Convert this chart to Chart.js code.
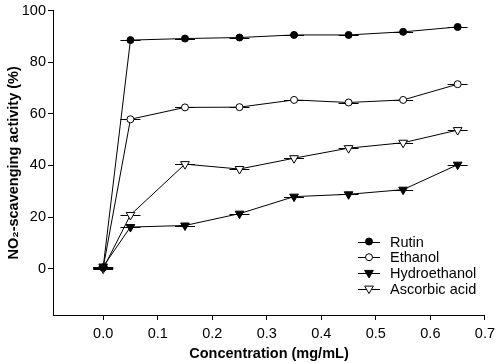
<!DOCTYPE html>
<html>
<head>
<meta charset="utf-8">
<script src="https://cdn.jsdelivr.net/npm/chart.js@4/dist/chart.umd.min.js"></script>
<style>
  html, body { margin: 0; padding: 0; background: #fff; }
  #wrap { width: 500px; height: 363px; }
</style>
</head>
<body>
<div id="wrap"><canvas id="chart"></canvas></div>
<script>
// values
const concentrations = [0.0, 0.05, 0.15, 0.25, 0.35, 0.45, 0.55, 0.65]
const rutin = [0.5, 88.6, 89.2, 89.6, 90.6, 90.6, 91.8, 93.7]
const ethanol = [0.3, 57.9, 62.5, 62.6, 65.4, 64.4, 65.4, 71.5]
const hydroethanol = [0.8, 16.1, 16.7, 21.3, 27.9, 28.8, 30.6, 40.3]
const ascorbicAcid = [0.0, 20.8, 40.5, 38.6, 42.8, 46.7, 48.8, 53.7]
const xTicks = [0.0, 0.1, 0.2, 0.3, 0.4, 0.5, 0.6, 0.7]
const yTicks = [0, 20, 40, 60, 80, 100]

const font = "'Liberation Sans', Arial, Helvetica, sans-serif"

function points(values) {
  return concentrations.map((x, i) => ({x: x, y: values[i]}))
}

function series(label, values, style, fill) {
  return {
    label: label,
    data: points(values),
    borderColor: '#000',
    borderWidth: 1,
    pointStyle: style.shape,
    pointRotation: style.rotation,
    pointRadius: style.radius,
    pointBackgroundColor: fill,
    pointBorderColor: '#000',
    pointBorderWidth: 1,
    tension: 0
  }
}

const circle = {shape: 'circle', rotation: 0, radius: 3.5}
const downTriangle = {shape: 'triangle', rotation: 180, radius: 5}

// short horizontal bars at each point (the error bar caps)
const capsPlugin = {
  id: 'caps',
  beforeDatasetsDraw(chart) {
    const ctx = chart.ctx
    ctx.save()
    ctx.strokeStyle = '#000'
    ctx.lineWidth = 1
    chart.data.datasets.forEach((ds, i) => {
      chart.getDatasetMeta(i).data.forEach(pt => {
        ctx.beginPath()
        ctx.moveTo(pt.x - 10, Math.round(pt.y) + 0.5)
        ctx.lineTo(pt.x + 10, Math.round(pt.y) + 0.5)
        ctx.stroke()
      })
    })
    ctx.restore()
  }
}

// legend with a line through each marker, sitting inside the plot
const legendPlugin = {
  id: 'lineLegend',
  afterDraw(chart) {
    const ctx = chart.ctx
    ctx.save()
    ctx.font = '14.5px ' + font
    ctx.fillStyle = '#000'
    ctx.textBaseline = 'middle'
    chart.data.datasets.forEach((ds, i) => {
      const y = 241.5 + i * 15.7
      ctx.strokeStyle = '#000'
      ctx.lineWidth = 1
      ctx.beginPath()
      ctx.moveTo(358, Math.round(y) + 0.5)
      ctx.lineTo(380, Math.round(y) + 0.5)
      ctx.stroke()
      ctx.fillStyle = ds.pointBackgroundColor
      Chart.helpers.drawPoint(ctx, {
        pointStyle: ds.pointStyle,
        rotation: ds.pointRotation,
        radius: ds.pointRadius,
        borderWidth: 1
      }, 369, y)
      ctx.fillStyle = '#000'
      ctx.fillText(ds.label, 390, y + 1)
    })
    ctx.restore()
  }
}

new Chart(document.getElementById('chart'), {
  type: 'line',
  data: {
    datasets: [
      series('Rutin', rutin, circle, '#000'),
      series('Ethanol', ethanol, circle, '#fff'),
      series('Hydroethanol', hydroethanol, downTriangle, '#000'),
      series('Ascorbic acid', ascorbicAcid, downTriangle, '#fff')
    ]
  },
  options: {
    responsive: true,
    maintainAspectRatio: false,
    animation: false,
    layout: {padding: {left: 0, right: 10, top: 6, bottom: 0}},
    plugins: {legend: {display: false}, tooltip: {enabled: false}},
    scales: {
      x: {
        type: 'linear',
        min: -0.092,
        max: 0.7,
        afterBuildTicks: scale => { scale.ticks = xTicks.map(v => ({value: v})) },
        afterFit: scale => { scale.height = 48 },
        grid: {drawOnChartArea: false, drawTicks: true, tickLength: 5, color: '#000'},
        border: {display: true, color: '#000', width: 1},
        ticks: {
          color: '#000',
          padding: 5,
          maxRotation: 0,
          font: {family: font, size: 14.5},
          callback: v => v.toFixed(1)
        },
        title: {
          display: true,
          text: 'Concentration (mg/mL)',
          color: '#000',
          font: {family: font, size: 14.5, weight: 'bold'},
          padding: {top: 4, bottom: 0}
        }
      },
      y: {
        min: -18,
        max: 100,
        afterBuildTicks: scale => { scale.ticks = yTicks.map(v => ({value: v})) },
        afterFit: scale => { scale.width = 53 },
        grid: {drawOnChartArea: false, drawTicks: true, tickLength: 5, color: '#000'},
        border: {display: true, color: '#000', width: 1},
        ticks: {
          color: '#000',
          padding: 2,
          font: {family: font, size: 14.5}
        },
        title: {
          display: true,
          text: 'NO₂-scavenging activity (%)',
          color: '#000',
          font: {family: font, size: 14.5, weight: 'bold'},
          padding: {top: 5, bottom: 0}
        }
      }
    }
  },
  plugins: [capsPlugin, legendPlugin]
})
</script>
</body>
</html>
